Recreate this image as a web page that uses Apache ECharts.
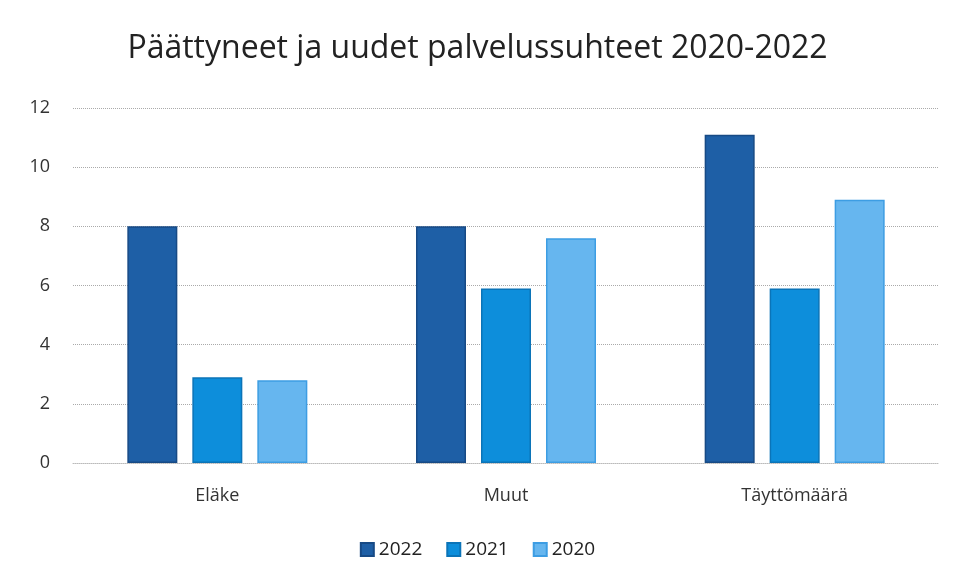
<!DOCTYPE html>
<html><head><meta charset="utf-8">
<script src="https://cdn.jsdelivr.net/npm/echarts@6/dist/echarts.min.js"></script>
<style>html,body{margin:0;padding:0;background:#fff}#c{width:955px;height:578px}</style>
</head><body><div id="c"></div>
<script>
const categories = ['Eläke', 'Muut', 'Täyttömäärä'];
const years = ['2022', '2021', '2020'];
const v2022 = [8, 8, 11.1];
const v2021 = [2.9, 5.9, 5.9];
const v2020 = [2.8, 7.6, 8.9];
const yTicks = [0, 2, 4, 6, 8, 10, 12];

const colors = ['#1e5fa6', '#0d8edb', '#66b6ef'];
const borders = ['#174a85', '#0b74b8', '#3d9de3'];
const values = [v2022, v2021, v2020];
const font = '"Open Sans", "Liberation Sans", sans-serif';

const chart = echarts.init(document.getElementById('c'));
chart.setOption({
  animation: false,
  title: {
    text: 'Päättyneet ja uudet palvelussuhteet 2020-2022',
    left: 'center', top: 28,
    textStyle: { fontFamily: font, fontSize: 32, fontWeight: 'normal', color: '#222' }
  },
  legend: {
    data: years, bottom: 14, left: 'center',
    itemWidth: 13, itemHeight: 13, itemGap: 24, icon: 'rect',
    textStyle: { fontFamily: font, fontSize: 19, color: '#222' }
  },
  grid: { left: 73, right: 16, top: 108, bottom: 115 },
  xAxis: {
    type: 'category', data: categories,
    axisLine: { show: true, lineStyle: { color: '#bbb', type: 'dotted' } },
    axisTick: { show: false },
    axisLabel: { fontFamily: font, fontSize: 18, color: '#333', margin: 24 }
  },
  yAxis: {
    type: 'value', min: yTicks[0], max: yTicks[yTicks.length - 1], interval: 2,
    axisLine: { show: false }, axisTick: { show: false },
    axisLabel: { fontFamily: font, fontSize: 18, color: '#333', margin: 23 },
    splitLine: { lineStyle: { color: '#aaa', type: 'dotted' } }
  },
  series: years.map((y, i) => ({
    name: y, type: 'bar', data: values[i], barWidth: 50, barGap: '30%',
    itemStyle: { color: colors[i], borderColor: borders[i], borderWidth: 1.5 }
  }))
});
</script></body></html>
